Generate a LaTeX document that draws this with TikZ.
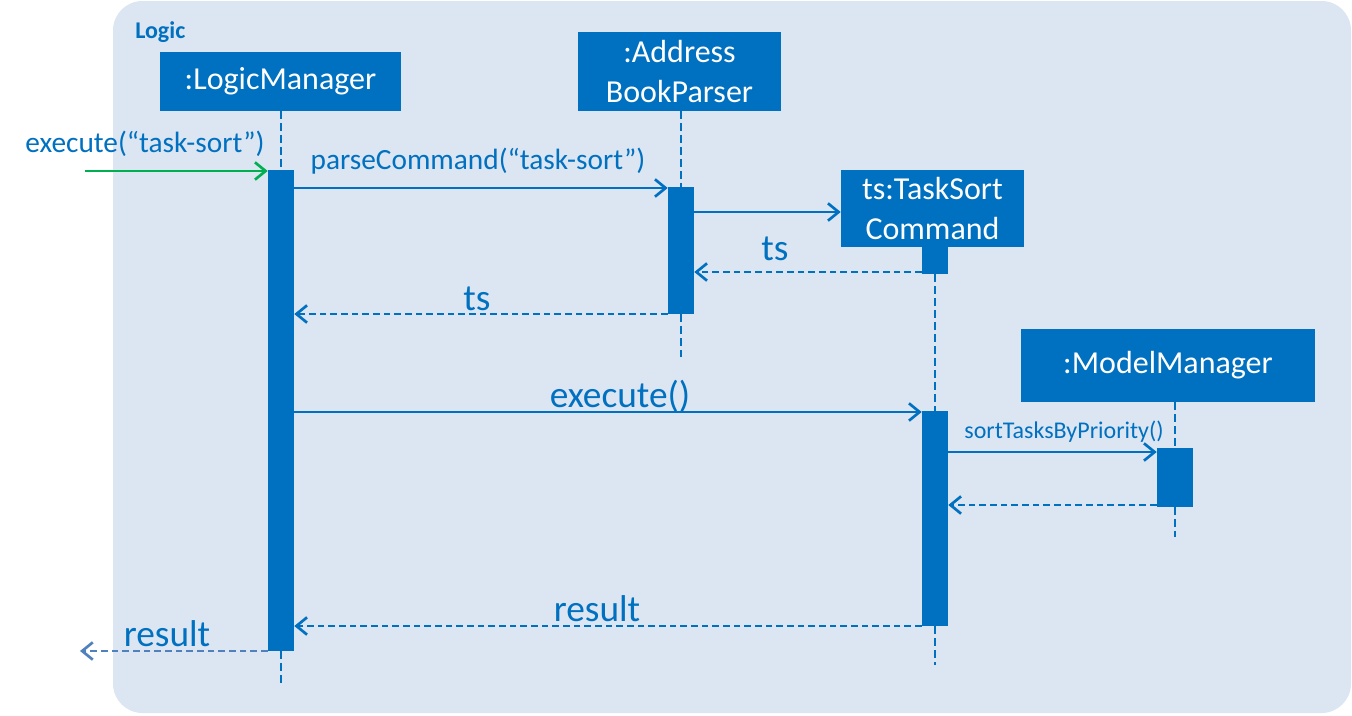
\documentclass[tikz,border=0pt]{standalone}
\usepackage{fontspec}
\setmainfont{Carlito}
\usetikzlibrary{arrows.meta}

\definecolor{bgblue}{RGB}{220,230,242}
\definecolor{umlblue}{RGB}{0,112,192}
\definecolor{callgreen}{RGB}{0,176,80}
\definecolor{retblue}{RGB}{79,129,189}

\begin{document}
\begin{tikzpicture}[x=0.75pt,y=0.75pt,yscale=-1,xscale=1,
	objbox/.style={fill=umlblue, text=white, inner sep=0pt, align=center, font=\fontsize{24}{30}\selectfont},
	actbar/.style={fill=umlblue, inner sep=0pt, minimum width=19.5pt},
	lifeline/.style={draw=umlblue, line width=2pt, dash pattern=on 6pt off 3pt},
	call/.style={draw=umlblue, line width=2pt, -{Straight Barb[length=8pt,width=13pt]}},
	reply/.style={call, dash pattern=on 5pt off 3pt},
	msglabel/.style={text=umlblue, inner sep=0.75pt},
	biglabel/.style={msglabel, font=\fontsize{28}{32}\selectfont},
	smalllabel/.style={msglabel, font=\fontsize{22}{26}\selectfont}
	]
	\useasboundingbox (0,0) rectangle (1352,715);
	
	%Shape: Rectangle [id:frame]
	\fill [bgblue, rounded corners=22pt] (113,1) rectangle (1351,713);
	% Text Node
	\node (frameName) at (135,32) [anchor=west, inner sep=0pt, text=umlblue, font=\fontsize{18}{22}\selectfont\bfseries] {Logic};
	
	%Shape: Objects
	\node (lmBox) at (280.5,81.5) [objbox, minimum width=180.75pt, minimum height=44.25pt] {:LogicManager};
	\node (abpBox) at (679.5,71.5) [objbox, minimum width=152.25pt, minimum height=59.25pt] {:Address\\BookParser};
	\node (tsBox) at (932.5,208.5) [objbox, minimum width=137.25pt, minimum height=57.75pt] {ts:TaskSort\\Command};
	\node (mmBox) at (1168,365.5) [objbox, minimum width=220.5pt, minimum height=54.75pt] {:ModelManager};
	
	%Lifeline ends
	\coordinate (lmEnd) at (281,685);
	\coordinate (abpEnd) at (681,357);
	\coordinate (tsEnd) at (935,665);
	\coordinate (mmEnd) at (1175,537);
	
	%Shape: Activation bars
	\node (lmAct) at (281,410.5) [actbar, minimum height=360.75pt] {};
	\node (abpAct) at (681,250.5) [actbar, minimum height=95.25pt] {};
	\node (tsNew) at (935,260.5) [actbar, minimum height=20.25pt] {};
	\node (tsAct) at (935,518.5) [actbar, minimum height=161.25pt] {};
	\node (mmAct) at (1175,477.5) [actbar, minimum width=27pt, minimum height=44.25pt] {};
	
	%Dashed Lines: lifelines
	\draw [lifeline] (lmAct.north |- lmBox.south) -- (lmAct.north);
	\draw [lifeline] (lmAct.south) -- (lmEnd);
	\draw [lifeline] (abpAct.north |- abpBox.south) -- (abpAct.north);
	\draw [lifeline] (abpAct.south) -- (abpEnd);
	\draw [lifeline] (tsNew.south) -- (tsAct.north);
	\draw [lifeline] (tsAct.south) -- (tsEnd);
	\draw [lifeline] (mmAct.north |- mmBox.south) -- (mmAct.north);
	\draw [lifeline] (mmAct.south) -- (mmEnd);
	
	%Message heights
	\coordinate (startCall) at (85,171);
	\coordinate (parseY) at (0,188);
	\coordinate (createY) at (0,212);
	\coordinate (tsBackY) at (0,272);
	\coordinate (tsOutY) at (0,314);
	\coordinate (executeY) at (0,412);
	\coordinate (sortY) at (0,452);
	\coordinate (sortBackY) at (0,505);
	\coordinate (resultY) at (0,626);
	\coordinate (resultEnd) at (80,651);
	
	%Straight Lines: messages
	\draw [call, draw=callgreen] (startCall) -- (lmAct.west |- startCall);
	\draw [call] (lmAct.east |- parseY) -- (abpAct.west |- parseY);
	\draw [call] (abpAct.east |- createY) -- (tsBox.west |- createY);
	\draw [reply] (tsNew.west |- tsBackY) -- (abpAct.east |- tsBackY);
	\draw [reply] (abpAct.west |- tsOutY) -- (lmAct.east |- tsOutY);
	\draw [call] (lmAct.east |- executeY) -- (tsAct.west |- executeY);
	\draw [call] (tsAct.east |- sortY) -- (mmAct.west |- sortY);
	\draw [reply] (mmAct.west |- sortBackY) -- (tsAct.east |- sortBackY);
	\draw [reply] (tsAct.west |- resultY) -- (lmAct.east |- resultY);
	\draw [reply, draw=retblue] (lmAct.west |- resultEnd) -- (resultEnd);
	
	% Text Node
	\node (startLabel) at (145,144) [smalllabel] {execute(“task-sort”)};
	% Text Node
	\node (parseLabel) at (478,161) [smalllabel] {parseCommand(“task-sort”)};
	% Text Node
	\node (tsBackLabel) at (775,249) [biglabel] {ts};
	% Text Node
	\node (tsOutLabel) at (477,299) [biglabel] {ts};
	% Text Node
	\node (executeLabel) at (620,396) [biglabel] {execute()};
	% Text Node
	\node (sortLabel) at (1064,432) [msglabel, font=\fontsize{18}{22}\selectfont] {sortTasksByPriority()};
	% Text Node
	\node (resultLabel) at (597,609) [biglabel] {result};
	% Text Node
	\node (resultOutLabel) at (167,634) [biglabel] {result};
	
\end{tikzpicture}
\end{document}
